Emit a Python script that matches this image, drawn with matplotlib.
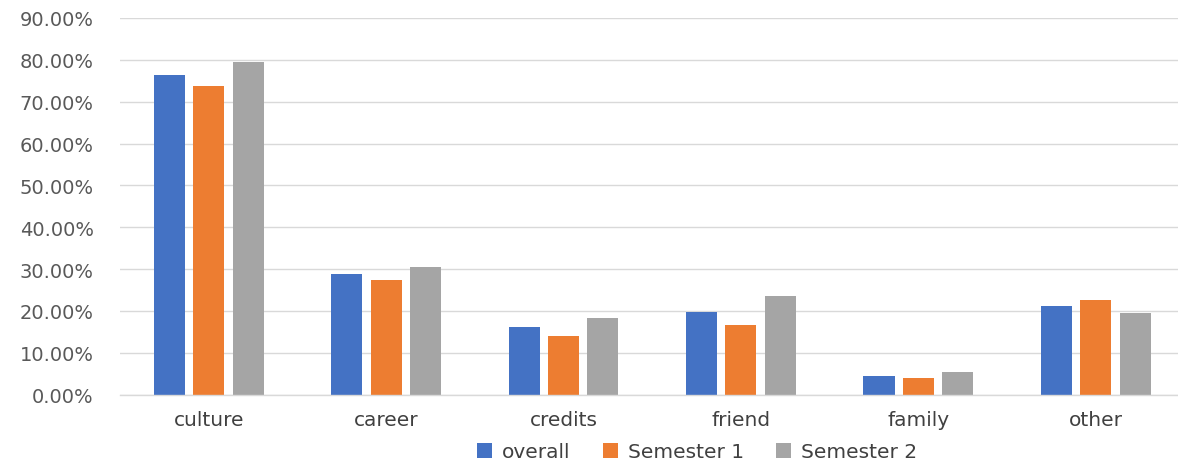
import matplotlib
matplotlib.use("Agg")
import matplotlib.pyplot as plt
import numpy as np
from matplotlib.ticker import FuncFormatter, MultipleLocator

categories = ["culture", "career", "credits", "friend", "family", "other"]
overall = [0.764, 0.288, 0.161, 0.198, 0.045, 0.212]
semester1 = [0.738, 0.273, 0.140, 0.166, 0.040, 0.226]
semester2 = [0.794, 0.305, 0.183, 0.237, 0.054, 0.195]
series_names = ["overall", "Semester 1", "Semester 2"]
colors = ["#4472C4", "#ED7D31", "#A5A5A5"]

fig = plt.figure(figsize=(11.78, 4.64), dpi=100)
W, H = 1178, 464
left, right = 120, 1184.5
bottom_px, top_px = 395.7, 19
ax = fig.add_axes([left / W, (H - bottom_px) / H, (right - left) / W, (bottom_px - top_px) / H])

x = np.arange(len(categories))
width = 0.175
offset = 0.222
for i, (vals, name, c) in enumerate(zip([overall, semester1, semester2], series_names, colors)):
    ax.bar(x + (i - 1) * offset, vals, width, color=c, label=name, zorder=3)

ax.set_xlim(-0.5, len(categories) - 0.5)
ax.set_ylim(0, 0.9)
ax.yaxis.set_major_locator(MultipleLocator(0.1))
ax.yaxis.set_major_formatter(FuncFormatter(lambda v, p: f"{v*100:.2f}%"))
ax.grid(axis="y", color="#d9d9d9", linewidth=1.0, zorder=0)
for s in ["top", "right", "left"]:
    ax.spines[s].set_visible(False)
ax.spines["bottom"].set_color("#d9d9d9")
ax.spines["bottom"].set_linewidth(1.0)
ax.spines["bottom"].set_zorder(4)
ax.tick_params(axis="y", length=0, pad=19, labelsize=14, labelcolor="#595959")
ax.tick_params(axis="x", length=0, pad=11, labelsize=14.5, labelcolor="#404040")
ax.set_xticks(x)
ax.set_xticklabels(categories)

leg = fig.legend(loc="center", bbox_to_anchor=(697 / W, (H - 453) / H), ncol=3, frameon=False,
                 fontsize=14.5, handlelength=0.75, handleheight=0.75, handletextpad=0.5,
                 columnspacing=1.6, labelcolor="#404040")

fig.savefig("out.png", dpi=100)
